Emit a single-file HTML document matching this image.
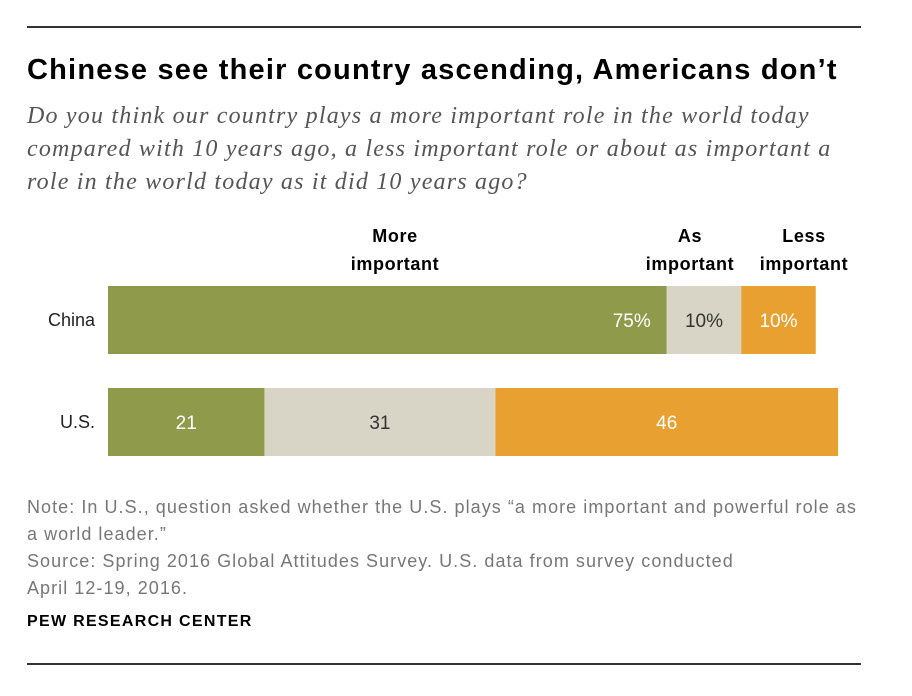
<!DOCTYPE html>
<html><head><meta charset="utf-8"><style>
body{margin:0;width:912px;height:696px;background:#fff;font-family:"Liberation Sans",sans-serif;position:relative;overflow:hidden}
.rule{position:absolute;left:27px;width:834px;height:2px;background:#333}
.t{position:absolute;white-space:nowrap}
</style></head><body>
<div class="rule" style="top:26px"></div>
<div class="t" style="left:27px;top:54px;font-size:29px;letter-spacing:1.2px;font-weight:bold;color:#000">Chinese see their country ascending, Americans don’t</div>
<div class="t" style="left:27px;top:100px;font-family:'Liberation Serif',serif;font-style:italic;font-size:24px;letter-spacing:1.2px;line-height:33px;color:#555">Do you think our country plays a more important role in the world today<br>compared with 10 years ago, a less important role or about as important a<br>role in the world today as it did 10 years ago?</div>
<svg id="c" width="912" height="696" style="position:absolute;left:0;top:0"></svg>
<div class="t" style="left:27px;top:494px;font-size:18px;letter-spacing:1.05px;line-height:27px;color:#777">Note: In U.S., question asked whether the U.S. plays “a more important and powerful role as<br>a world leader.”<br>Source: Spring 2016 Global Attitudes Survey. U.S. data from survey conducted<br>April 12-19, 2016.</div>
<div class="t" style="left:27px;top:613px;font-size:16px;letter-spacing:1.3px;font-weight:bold;color:#000">PEW RESEARCH CENTER</div>
<div class="rule" style="top:663px"></div>
<script>
const categories=["China","U.S."];
const moreImportant=[75,21];
const asImportant=[10,31];
const lessImportant=[10,46];
const labelsChina=["75%","10%","10%"];
const colors=["#8f9a4a","#d9d5c6","#e8a030"];
const txtColors=["#fff","#333","#fff"];
const svg=document.getElementById('c');
const NS="http://www.w3.org/2000/svg";
const x0=108,scale=7.45,barH=68;
const yPos=i=>286+i*102;
const xs=v=>v*scale;
function mk(tag,attrs){const e=document.createElementNS(NS,tag);for(const k in attrs)e.setAttribute(k,attrs[k]);svg.appendChild(e);return e;}
const series=[moreImportant,asImportant,lessImportant];
categories.forEach((c,i)=>{
  const lab=mk('text',{x:95,y:yPos(i)+barH/2+6,'text-anchor':'end','font-size':18,fill:'#222','font-family':'Liberation Sans,sans-serif'});
  lab.textContent=c;
  
  
  let x=x0;
  series.forEach((s,j)=>{
    const w=xs(s[i]);
    const r=mk('rect',{x:x,y:yPos(i),width:w,height:barH,fill:colors[j]});
    
    
    const t=mk('text',{x:j===0&&i===0?x+w-16:x+w/2,y:yPos(i)+barH/2+7,'text-anchor':j===0&&i===0?'end':'middle','font-size':19,fill:txtColors[j],'font-family':'Liberation Sans,sans-serif'});
    t.textContent=i===0?labelsChina[j]:String(s[i]);
    
    
    x+=w;
  });
});
const hdr=[["More","important"],["As","important"],["Less","important"]];
let hx=x0;
series.forEach((s,j)=>{
  const w=xs(s[0]);
  let cx=hx+w/2; if(j===0)cx=395; if(j===1)cx=690; if(j===2)cx=804;
  [0,1].forEach(k=>{
    const t=mk('text',{x:cx,y:242+k*28,'text-anchor':'middle','font-size':18,'letter-spacing':'0.6','font-weight':'bold',fill:'#000','font-family':'Liberation Sans,sans-serif'});
    t.textContent=hdr[j][k];
    
    
  });
  hx+=w;
});
</script>
</body></html>
